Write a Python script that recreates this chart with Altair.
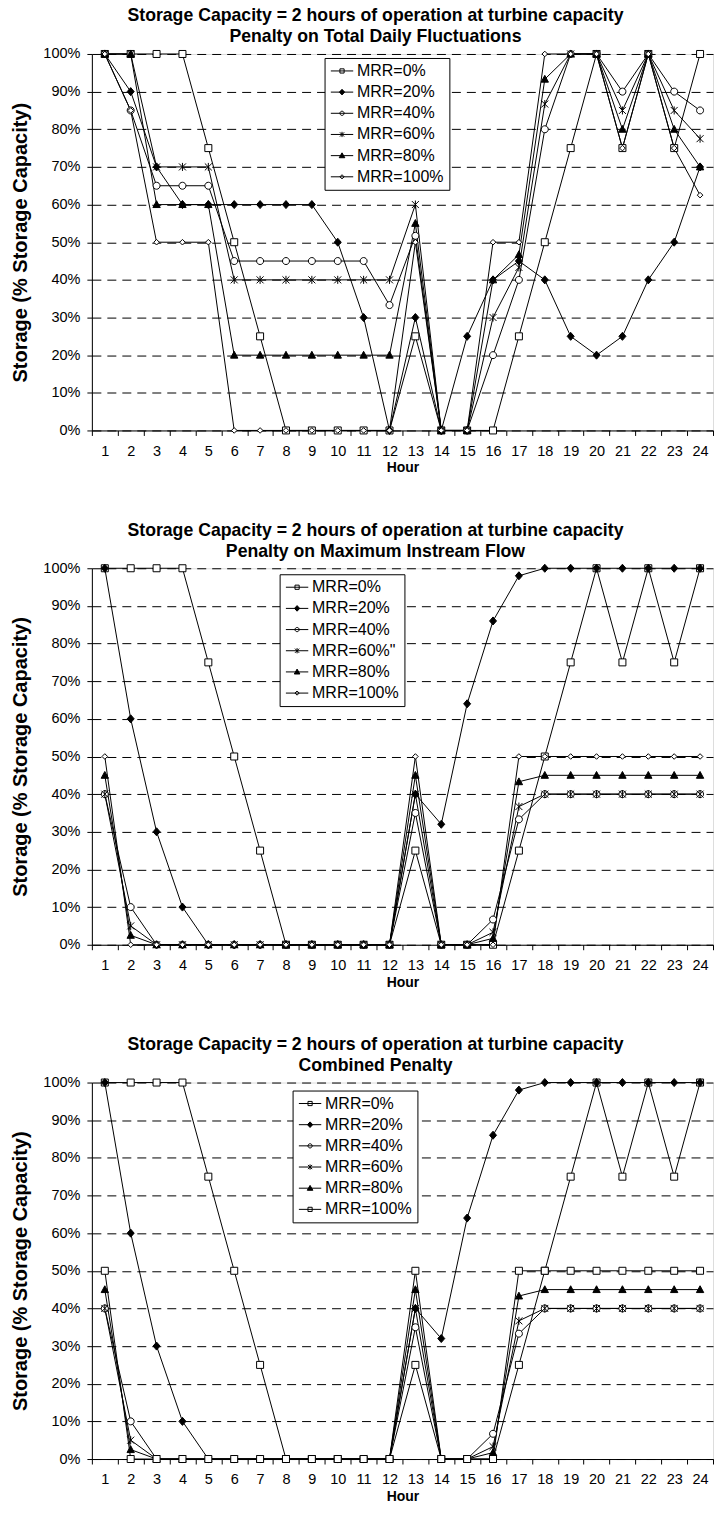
import altair as alt
import pandas as pd

hours = list(range(1, 25))
series_names = ["MRR=0%", "MRR=20%", "MRR=40%", "MRR=60%", "MRR=80%", "MRR=100%"]
series_names_c2 = ["MRR=0%", "MRR=20%", "MRR=40%", "MRR=60%\"", "MRR=80%", "MRR=100%"]

# Chart 1: Penalty on Total Daily Fluctuations
c1_mrr0 = [100, 100, 100, 100, 75, 50, 25, 0, 0, 0, 0, 0, 25, 0, 0, 0, 25, 50, 75, 100, 75, 100, 75, 100]
c1_mrr20 = [100, 90, 70, 60, 60, 60, 60, 60, 60, 50, 30, 0, 30, 0, 25, 40, 45, 40, 25, 20, 25, 40, 50, 70]
c1_mrr40 = [100, 85, 65, 65, 65, 45, 45, 45, 45, 45, 45, 33.3, 51.7, 0, 0, 20, 40, 80, 100, 100, 90, 100, 90, 85]
c1_mrr60 = [100, 100, 70, 70, 70, 40, 40, 40, 40, 40, 40, 40, 60, 0, 0, 30, 43.3, 86.7, 100, 100, 85, 100, 85, 77.5]
c1_mrr80 = [100, 100, 60, 60, 60, 20, 20, 20, 20, 20, 20, 20, 55, 0, 0, 40, 46.7, 93.3, 100, 100, 80, 100, 80, 70]
c1_mrr100 = [100, 85, 50, 50, 50, 0, 0, 0, 0, 0, 0, 0, 50, 0, 0, 50, 50, 100, 100, 100, 75, 100, 75, 62.5]

# Chart 2: Penalty on Maximum Instream Flow
c2_mrr0 = [100, 100, 100, 100, 75, 50, 25, 0, 0, 0, 0, 0, 25, 0, 0, 0, 25, 50, 75, 100, 75, 100, 75, 100]
c2_mrr20 = [100, 60, 30, 10, 0, 0, 0, 0, 0, 0, 0, 0, 40, 32, 64, 86, 98, 100, 100, 100, 100, 100, 100, 100]
c2_mrr40 = [40, 10, 0, 0, 0, 0, 0, 0, 0, 0, 0, 0, 35, 0, 0, 6.7, 33.3, 40, 40, 40, 40, 40, 40, 40]
c2_mrr60 = [40, 5, 0, 0, 0, 0, 0, 0, 0, 0, 0, 0, 40, 0, 0, 3.3, 36.7, 40, 40, 40, 40, 40, 40, 40]
c2_mrr80 = [45, 2.5, 0, 0, 0, 0, 0, 0, 0, 0, 0, 0, 45, 0, 0, 1.7, 43.3, 45, 45, 45, 45, 45, 45, 45]
c2_mrr100 = [50, 0, 0, 0, 0, 0, 0, 0, 0, 0, 0, 0, 50, 0, 0, 0, 50, 50, 50, 50, 50, 50, 50, 50]

# Chart 3: Combined Penalty
c3_mrr0 = [100, 100, 100, 100, 75, 50, 25, 0, 0, 0, 0, 0, 25, 0, 0, 0, 25, 50, 75, 100, 75, 100, 75, 100]
c3_mrr20 = [100, 60, 30, 10, 0, 0, 0, 0, 0, 0, 0, 0, 40, 32, 64, 86, 98, 100, 100, 100, 100, 100, 100, 100]
c3_mrr40 = [40, 10, 0, 0, 0, 0, 0, 0, 0, 0, 0, 0, 35, 0, 0, 6.7, 33.3, 40, 40, 40, 40, 40, 40, 40]
c3_mrr60 = [40, 5, 0, 0, 0, 0, 0, 0, 0, 0, 0, 0, 40, 0, 0, 3.3, 36.7, 40, 40, 40, 40, 40, 40, 40]
c3_mrr80 = [45, 2.5, 0, 0, 0, 0, 0, 0, 0, 0, 0, 0, 45, 0, 0, 1.7, 43.3, 45, 45, 45, 45, 45, 45, 45]
c3_mrr100 = [50, 0, 0, 0, 0, 0, 0, 0, 0, 0, 0, 0, 50, 0, 0, 0, 50, 50, 50, 50, 50, 50, 50, 50]

y_ticks = list(range(0, 101, 10))

title_line1 = "Storage Capacity = 2 hours of operation at turbine capacity"
subtitles = ["Penalty on Total Daily Fluctuations", "Penalty on Maximum Instream Flow", "Combined Penalty"]

FONT = "Liberation Sans"

# marker shapes (unit paths)
SQ = "M-1,-1L1,-1L1,1L-1,1Z"
DIA = "M0,-1.15L1,0L0,1.15L-1,0Z"
CIR = "M1,0A1,1 0 1,1 -1,0A1,1 0 1,1 1,0Z"
STAR = "M-1,-1L1,1M-1,1L1,-1M0,-1.15L0,1.15"
TRI = "M0,-1.1L1.05,0.85L-1.05,0.85Z"
SDIA = "M0,-0.8L0.8,0L0,0.8L-0.8,0Z"

LINE = "M-3.2,0L3.2,0"
L_SQ = LINE + "M-0.6,-0.6L0.6,-0.6L0.6,0.6L-0.6,0.6Z"
L_DIA = LINE + "M0,-0.8L0.75,0L0,0.8L-0.75,0Z"
L_CIR = LINE + "M0.6,0A0.6,0.6 0 1,1 -0.6,0A0.6,0.6 0 1,1 0.6,0Z"
L_STAR = LINE + "M-0.6,-0.6L0.6,0.6M-0.6,0.6L0.6,-0.6M0,-0.75L0,0.75"
L_TRI = LINE + "M0,-0.8L0.8,0.6L-0.8,0.6Z"
L_SDIA = LINE + "M0,-0.6L0.6,0L0,0.6L-0.6,0Z"

fills = ["white", "black", "white", "white", "black", "white"]
strokes = ["black"] * 6


def make_df(names, lists):
    rows = []
    for name, vals in zip(names, lists):
        for h, v in zip(hours, vals):
            rows.append({"hour": h, "series": name, "value": v})
    return pd.DataFrame(rows)


def panel(names, lists, subtitle, shapes, lshapes, legend_x, legend_y):
    df = make_df(names, lists)
    base = alt.Chart(df)
    x = alt.X(
        "hour:O",
        bandPosition=0.5,
        scale=alt.Scale(type="band", paddingInner=0, paddingOuter=0),
        axis=alt.Axis(
            title="Hour", labelAngle=0, tickBand="extent", grid=False,
            tickSize=5, labelPadding=9, titlePadding=3,
            labelFont=FONT, labelFontSize=14.5, labelColor="black",
            titleFont=FONT, titleFontSize=14, titleFontWeight="bold", titleColor="black",
            domainColor="black", tickColor="black",
        ),
    )
    y = alt.Y(
        "value:Q",
        scale=alt.Scale(domain=[0, 100], nice=False),
        axis=alt.Axis(
            title="Storage (% Storage Capacity)", values=y_ticks,
            labelExpr="datum.value + '%'", grid=True, gridDash=[9, 6],
            gridColor="black", gridWidth=1, tickSize=5, labelPadding=7,
            titlePadding=12,
            labelFont=FONT, labelFontSize=14.5, labelColor="black",
            titleFont=FONT, titleFontSize=20, titleFontWeight="bold", titleColor="black",
            domainColor="black", tickColor="black",
        ),
    )
    lines = base.mark_line(color="black", strokeWidth=1).encode(
        x=x, y=y, detail="series:N"
    )
    points = base.mark_point(size=49, strokeWidth=1, opacity=1).encode(
        x=x, y=y,
        shape=alt.Shape("series:N", scale=alt.Scale(domain=names, range=shapes), legend=None),
        fill=alt.Fill("series:N", scale=alt.Scale(domain=names, range=fills), legend=None),
        stroke=alt.Stroke("series:N", scale=alt.Scale(domain=names, range=strokes), legend=None),
    )
    leg = alt.Legend(
        title=None, orient="none", legendX=legend_x, legendY=legend_y,
        strokeColor="black", fillColor="white", padding=5, rowPadding=5.2,
        symbolOffset=4.5, labelOffset=7, labelFontSize=16, labelFont=FONT,
        labelColor="black", symbolSize=49, symbolStrokeWidth=1,
        symbolStrokeColor="black", cornerRadius=0, labelLimit=200,
    )
    legend_layer = base.mark_point(size=49, strokeWidth=1, opacity=1).encode(
        x=x, y=y,
        shape=alt.Shape("series:N", scale=alt.Scale(domain=names, range=lshapes), legend=leg),
        fill=alt.Fill("series:N", scale=alt.Scale(domain=names, range=fills), legend=leg),
        stroke=alt.Stroke("series:N", scale=alt.Scale(domain=names, range=strokes), legend=leg),
    ).transform_filter("datum.hour < 0")
    return alt.layer(lines, points, legend_layer).resolve_scale(
        shape="independent", fill="independent", stroke="independent"
    ).properties(
        width=622, height=377,
        title=alt.TitleParams(
            text=[title_line1, subtitle], anchor="middle", dx=-27, offset=0,
            fontSize=17.7, font=FONT, fontWeight="bold", color="black", lineHeight=21,
        ),
    )


shapes1 = [SQ, DIA, CIR, STAR, TRI, SDIA]
lshapes1 = [L_SQ, L_DIA, L_CIR, L_STAR, L_TRI, L_SDIA]
shapes3 = [SQ, DIA, CIR, STAR, TRI, SQ]
lshapes3 = [L_SQ, L_DIA, L_CIR, L_STAR, L_TRI, L_SQ]

p1 = panel(series_names, [c1_mrr0, c1_mrr20, c1_mrr40, c1_mrr60, c1_mrr80, c1_mrr100],
           subtitles[0], shapes1, lshapes1, 233, 4)
p2 = panel(series_names_c2, [c2_mrr0, c2_mrr20, c2_mrr40, c2_mrr60, c2_mrr80, c2_mrr100],
           subtitles[1], shapes1, lshapes1, 188, 6)
p3 = panel(series_names, [c3_mrr0, c3_mrr20, c3_mrr40, c3_mrr60, c3_mrr80, c3_mrr100],
           subtitles[2], shapes3, lshapes3, 201, 8)

chart = alt.vconcat(p1, p2, p3, spacing=45).resolve_scale(
    shape="independent", fill="independent", stroke="independent"
).properties(
    padding={"left": 10, "top": 5, "right": 4, "bottom": 5}
).configure_view(
    stroke="#808080", strokeWidth=1
).configure(background="white")

chart.save("out.html", embed_options={"renderer": "svg", "actions": False})
